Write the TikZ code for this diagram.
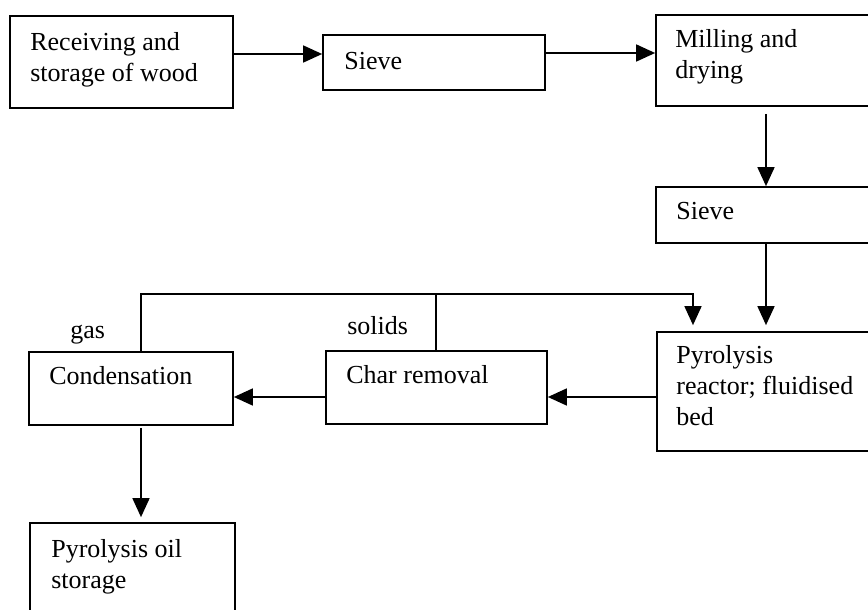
\documentclass[tikz,border=0pt]{standalone}
\usepackage{fontspec}
\setmainfont{Liberation Serif}
\usetikzlibrary{arrows.meta,positioning,calc}
\tikzset{
  arr/.style={-{Triangle[length=19pt,width=17pt]},line width=1.6pt},
  stage/.style={rectangle,draw,line width=1.7pt,inner sep=0pt},
  txt/.style={inner sep=0pt,align=left,font=\fontsize{26}{31}\selectfont},
  flow/.style={font=\fontsize{26}{31}\selectfont,inner sep=0pt,anchor=base west},
}

\begin{document}
\begin{tikzpicture}[x=1pt,y=-1pt]
\useasboundingbox (0,0) rectangle (868,610);
\clip (0,0) rectangle (868,610);

% process steps (right column runs off the page edge)
\node[stage,minimum width=223pt,minimum height=92pt] (recv) at (121.5,62) {};
\node[stage,minimum width=222pt,minimum height=55pt] (sieveA) at (434,62.5) {};
\node[stage,minimum width=224pt,minimum height=91pt] (mill) at (768,60.5) {};
\node[stage,minimum width=224pt,minimum height=56pt] (sieveB) at (768,215) {};
\node[stage,minimum width=223pt,minimum height=119pt] (reactor) at (768.5,391.5) {};
\node[stage,minimum width=221pt,minimum height=73pt] (charrem) at (436.5,387.5) {};
\node[stage,minimum width=204pt,minimum height=73pt] (cond) at (131,388.5) {};
\node[stage,minimum width=205pt,minimum height=107pt] (oil) at (132.5,576.5) {};

\node[txt,below right=17pt and 21pt of recv.north west] (recv-t) {Receiving and\\storage of wood};
\node[txt,below right=18pt and 22pt of sieveA.north west] (sieveA-t) {Sieve};
\node[txt,below right=15pt and 20pt of mill.north west] (mill-t) {Milling and\\drying};
\node[txt,below right=15.5pt and 21pt of sieveB.north west] (sieveB-t) {Sieve};
\node[txt,below right=14pt and 20pt of reactor.north west] (reactor-t) {Pyrolysis\\reactor; fluidised\\bed};
\node[txt,below right=15pt and 21pt of charrem.north west] (charrem-t) {Char removal};
\node[txt,below right=15pt and 21pt of cond.north west] (cond-t) {Condensation};
\node[txt,below right=17pt and 22pt of oil.north west] (oil-t) {Pyrolysis oil\\storage};

% stream labels
\node[flow,above right=13pt and 42pt of cond.north west,anchor=base west] (gas) {gas};
\node[flow,above right=16pt and 22pt of charrem.north west,anchor=base west] (solids) {solids};

\coordinate (feed) at (693,294);

\draw[arr] ([yshift=8pt]recv.east) -- ([yshift=8pt]recv.east -| sieveA.west);
\draw[arr] ([yshift=9.5pt]sieveA.east) -- ([yshift=9.5pt]sieveA.east -| mill.west);
\draw[arr,shorten <=7pt] ([xshift=-2pt]mill.south) -- ([xshift=-2pt]mill.south |- sieveB.north);
\draw[arr,shorten >=6pt] ([xshift=-2pt]sieveB.south) -- ([xshift=-2pt]sieveB.south |- reactor.north);
\draw[arr] ([yshift=-5.5pt]reactor.west) -- ([yshift=-5.5pt]reactor.west -| charrem.east);
\draw[arr] ([yshift=-9.5pt]charrem.west) -- ([yshift=-9.5pt]charrem.west -| cond.east);
% recycle of gas and solids back to the reactor
\draw[arr,shorten >=6pt] ([xshift=10pt]cond.north) |- (feed) -- (feed |- reactor.north);
\draw[line width=1.6pt] ([xshift=-0.5pt]charrem.north) -- ([xshift=-0.5pt]charrem.north |- feed);
\draw[arr,shorten <=2pt,shorten >=5pt] ([xshift=10pt]cond.south) -- ([xshift=10pt]cond.south |- oil.north);
\end{tikzpicture}
\end{document}
